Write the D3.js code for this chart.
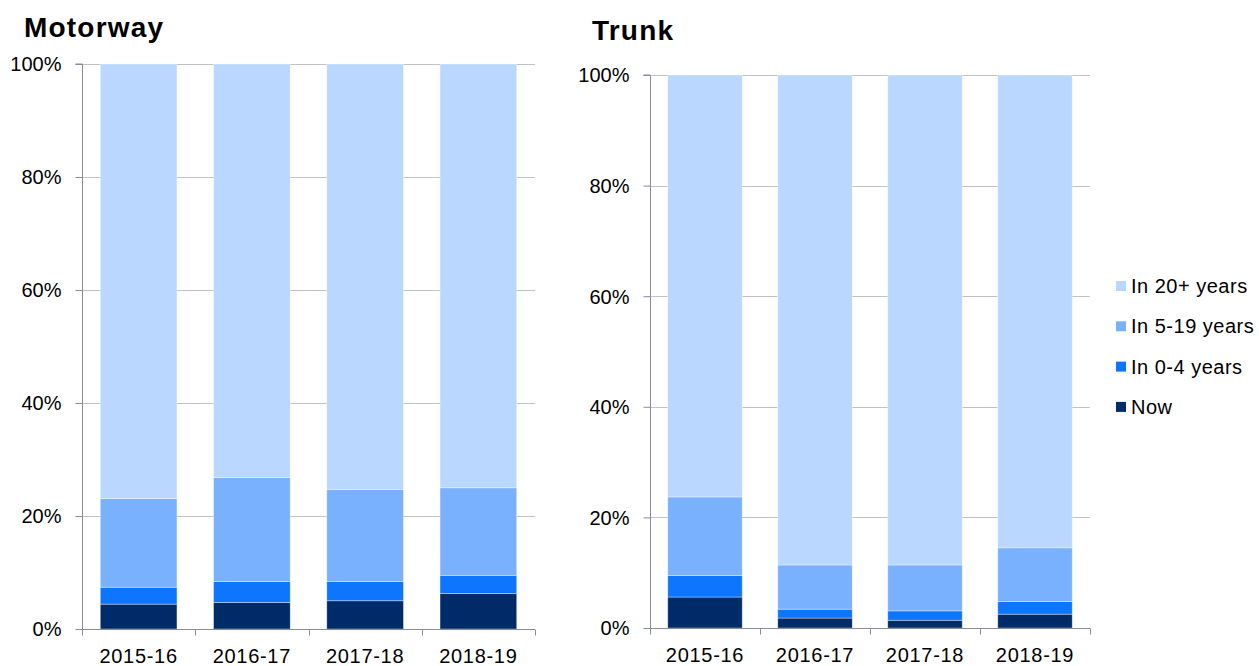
<!DOCTYPE html>
<html>
<head>
<meta charset="utf-8">
<script src="https://cdn.jsdelivr.net/npm/d3@7"></script>
<style>
  html, body { margin: 0; padding: 0; background: #ffffff; }
  svg { display: block; font-family: "Liberation Sans", Arial, sans-serif; }
</style>
</head>
<body>
<svg id="chart" width="1259" height="666"></svg>
<script>
// ---- data ----
const categories = ["2015-16", "2016-17", "2017-18", "2018-19"];
const seriesNames = ["Now", "In 0-4 years", "In 5-19 years", "In 20+ years"];
const seriesColors = ["#002B69", "#0D75FF", "#7AB1FF", "#BAD7FF"];
const yTicks = [0, 20, 40, 60, 80, 100];

// Motorway (%)
const motorwayNow   = [4.4, 4.7, 5.0, 6.3];
const motorway0_4   = [3.0, 3.7, 3.4, 3.2];
const motorway5_19  = [15.7, 18.4, 16.3, 15.5];
const motorway20    = [76.9, 73.2, 75.3, 75.0];

// Trunk (%)
const trunkNow   = [5.6, 1.8, 1.4, 2.5];
const trunk0_4   = [3.9, 1.6, 1.7, 2.3];
const trunk5_19  = [14.2, 8.0, 8.3, 9.7];
const trunk20    = [76.3, 88.6, 88.6, 85.5];

const svg = d3.select("#chart");

function buildRows(arrs) {
  return categories.map((c, i) => {
    const r = { cat: c };
    seriesNames.forEach((s, k) => { r[s] = arrs[k][i]; });
    return r;
  });
}

function drawPanel(opts) {
  const { title, titleX, titleY, x0, x1, y0, y1, rows } = opts;
  const g = svg.append("g");
  const x = d3.scaleBand().domain(categories).range([x0, x1]).paddingInner(0.323).paddingOuter(0.1615);
  const xb = d3.scaleBand().domain(categories).range([x0, x1]).padding(0);
  const y = d3.scaleLinear().domain([0, 100]).range([y1, y0]);

  // gridlines
  g.append("g").selectAll("line").data(yTicks.filter(t => t > 0)).join("line")
    .attr("x1", x0).attr("x2", x1)
    .attr("y1", d => Math.round(y(d)) + 0.5).attr("y2", d => Math.round(y(d)) + 0.5)
    .attr("stroke", "#C3C3C3").attr("stroke-width", 1);

  // bars
  const stack = d3.stack().keys(seriesNames);
  const layers = stack(rows);
  g.append("g").selectAll("g").data(layers).join("g")
    .attr("fill", (d, i) => seriesColors[i])
    .selectAll("rect").data(d => d).join("rect")
      .attr("x", d => x(d.data.cat))
      .attr("width", x.bandwidth())
      .attr("y", d => y(d[1]))
      .attr("height", d => y(d[0]) - y(d[1]))
      .attr("stroke", "#ffffff").attr("stroke-opacity", 0.45).attr("stroke-width", 0.8);

  // y axis
  const yAxis = d3.axisLeft(y).tickValues(yTicks).tickSize(7).tickPadding(14)
    .tickFormat(d => d + "%");
  const ya = g.append("g").attr("transform", `translate(${x0 + 0.5},0)`).call(yAxis);
  ya.select(".domain").attr("stroke", "#878CA0").attr("d", `M-7,${y0}H0V${y1}`);
  ya.selectAll(".tick line").attr("stroke", "#878CA0");
  ya.selectAll(".tick text").attr("font-size", 20).attr("fill", "#000")
    .attr("font-family", "Liberation Sans, Arial, sans-serif").attr("dy", "0.34em");

  // x axis (domain + ticks at category boundaries)
  const xa = g.append("g").attr("transform", `translate(0,${y1 + 0.5})`);
  xa.append("line").attr("x1", x0).attr("x2", x1).attr("y1", 0).attr("y2", 0).attr("stroke", "#878CA0");
  const bounds = categories.map(c => xb(c)).concat([x1]);
  xa.selectAll("line.tk").data(bounds).join("line").attr("class", "tk")
    .attr("x1", d => Math.round(d) + 0.5).attr("x2", d => Math.round(d) + 0.5)
    .attr("y1", 0).attr("y2", 6).attr("stroke", "#878CA0");
  xa.selectAll("text").data(categories).join("text")
    .attr("x", d => xb(d) + xb.bandwidth() / 2)
    .attr("y", 33)
    .attr("text-anchor", "middle").attr("font-size", 20).attr("letter-spacing", 0.7)
    .attr("fill", "#000")
    .text(d => d);

  // title
  g.append("text").attr("x", titleX).attr("y", titleY)
    .attr("font-size", 28).attr("font-weight", "bold").attr("letter-spacing", 1.2)
    .attr("fill", "#000").text(title);
}

drawPanel({
  title: "Motorway", titleX: 24, titleY: 37,
  x0: 82, x1: 535, y0: 64, y1: 629,
  rows: buildRows([motorwayNow, motorway0_4, motorway5_19, motorway20])
});

drawPanel({
  title: "Trunk", titleX: 592, titleY: 40,
  x0: 650, x1: 1090, y0: 75, y1: 628,
  rows: buildRows([trunkNow, trunk0_4, trunk5_19, trunk20])
});

// legend (top to bottom: 20+ ... Now)
const legendOrder = seriesNames.map((s, i) => ({ name: s, color: seriesColors[i] })).reverse();
const lg = svg.append("g");
const li = lg.selectAll("g").data(legendOrder).join("g")
  .attr("transform", (d, i) => `translate(1116, ${286 + i * 40.3})`);
li.append("rect").attr("x", 0).attr("y", -5).attr("width", 10).attr("height", 10)
  .attr("fill", d => d.color);
li.append("text").attr("x", 15).attr("y", 7).attr("font-size", 20).attr("letter-spacing", 0.5)
  .attr("fill", "#000")
  .text(d => d.name);
</script>
</body>
</html>
